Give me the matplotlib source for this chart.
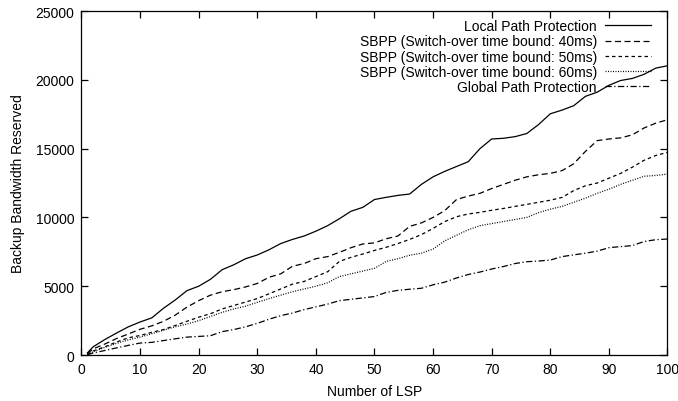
import numpy as np
import matplotlib
matplotlib.use("Agg")
import matplotlib.pyplot as plt


# =========================
# Data
# =========================
num_lsp = [1, 2, 4, 6, 8, 10, 12, 14, 16, 18, 20, 22, 24, 26, 28, 30, 32, 34, 36, 38,
           40, 42, 44, 46, 48, 50, 52, 54, 56, 58, 60, 62, 64, 66, 68, 70, 72, 74, 76, 78,
           80, 82, 84, 86, 88, 90, 92, 94, 96, 98, 100]

local_path = [150, 600, 1130, 1600, 2050, 2400, 2700, 3400, 4000, 4680, 5000, 5500, 6200,
              6560, 7000, 7270, 7650, 8100, 8400, 8650, 9000, 9400, 9900, 10450, 10730,
              11300, 11460, 11600, 11700, 12400, 12950, 13350, 13700, 14050, 15000, 15700,
              15750, 15870, 16100, 16750, 17530, 17800, 18120, 18800, 19100, 19600, 19950,
              20100, 20400, 20850, 21020]

sbpp_40 = [100, 450, 800, 1200, 1530, 1870, 2120, 2450, 2900, 3480, 3950, 4350, 4600, 4750,
           4950, 5200, 5650, 5900, 6450, 6650, 7000, 7150, 7460, 7800, 8070, 8150, 8450,
           8650, 9350, 9600, 10000, 10500, 11300, 11550, 11750, 12100, 12400, 12700, 12950,
           13100, 13200, 13400, 13900, 14800, 15580, 15700, 15780, 16000, 16500, 16850, 17100]

sbpp_50 = [50, 300, 600, 950, 1250, 1420, 1650, 1850, 2150, 2450, 2750, 3000, 3350, 3600,
           3850, 4100, 4450, 4800, 5150, 5350, 5700, 6050, 6800, 7100, 7340, 7600, 7830,
           8100, 8400, 8750, 9200, 9700, 10050, 10250, 10370, 10520, 10650, 10800, 10950,
           11100, 11250, 11450, 11950, 12300, 12500, 12850, 13200, 13650, 14150, 14500, 14730]

sbpp_60 = [30, 240, 560, 850, 1100, 1300, 1550, 1800, 2050, 2250, 2500, 2800, 3100, 3350,
           3550, 3830, 4100, 4350, 4600, 4800, 5000, 5250, 5700, 5900, 6100, 6300, 6800,
           7000, 7250, 7400, 7700, 8300, 8700, 9100, 9400, 9550, 9700, 9850, 10000, 10350,
           10600, 10800, 11100, 11400, 11750, 12050, 12400, 12700, 12990, 13050, 13150]

global_path = [20, 150, 330, 520, 700, 870, 920, 1050, 1180, 1300, 1350, 1400, 1700, 1850,
               2050, 2300, 2600, 2860, 3050, 3300, 3500, 3700, 3950, 4050, 4150, 4250, 4550,
               4700, 4780, 4850, 5100, 5300, 5600, 5850, 6030, 6250, 6430, 6650, 6780, 6830,
               6900, 7150, 7280, 7400, 7550, 7800, 7880, 7950, 8250, 8380, 8430]

labels = [
    "Local Path Protection",
    "SBPP (Switch-over time bound: 40ms)",
    "SBPP (Switch-over time bound: 50ms)",
    "SBPP (Switch-over time bound: 60ms)",
    "Global Path Protection",
]

x_ticks = [0, 10, 20, 30, 40, 50, 60, 70, 80, 90, 100]
y_ticks = [0, 5000, 10000, 15000, 20000, 25000]


# =========================
# Plot
# =========================
plt.rcParams["font.family"] = ["Liberation Sans", "DejaVu Sans"]
plt.rcParams["font.size"] = 10

fig = plt.figure(figsize=(6.78, 4.02), dpi=100)
ax = fig.add_axes([0.1202, 0.1144, 0.8643, 0.8557])

series = [local_path, sbpp_40, sbpp_50, sbpp_60, global_path]
styles = [
    "-",
    (0, (4.8, 2.8)),
    (0, (2.8, 2.4)),
    (0, (0.8, 1.2)),
    (0, (5.0, 2.0, 1.0, 2.0)),
]

for vals, ls, lab in zip(series, styles, labels):
    ax.plot(num_lsp, vals, color="black", linestyle=ls, linewidth=0.9, label=lab)

ax.set_xlim(0, 100)
ax.set_ylim(0, 25000)
ax.set_xticks(x_ticks)
ax.set_yticks(y_ticks)
ax.tick_params(direction="in", length=5, width=0.9, top=True, right=True, pad=5)
for sp in ax.spines.values():
    sp.set_linewidth(0.9)

ax.set_xlabel("Number of LSP", labelpad=6)
ax.set_ylabel("Backup Bandwidth Reserved", labelpad=8)

ax.legend(loc="upper right", bbox_to_anchor=(0.9766, 0.984), frameon=False,
          markerfirst=False, handlelength=3.3, handletextpad=0.6,
          labelspacing=0.08, borderaxespad=0.0, borderpad=0.2)

fig.savefig("out.png", dpi=100)
